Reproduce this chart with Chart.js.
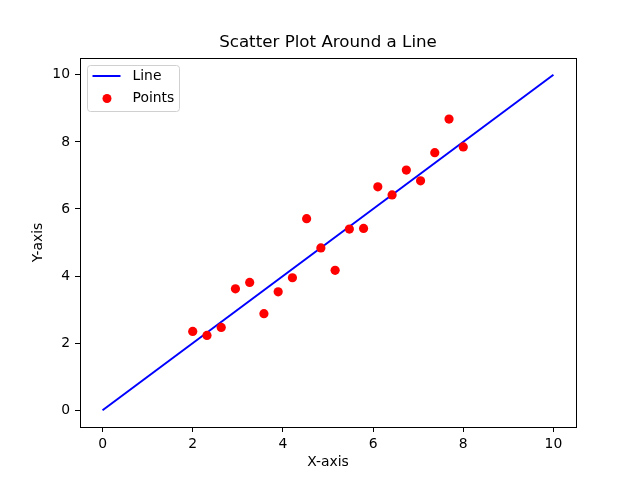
<!DOCTYPE html>
<html>
<head>
<meta charset="utf-8">
<script src="https://cdn.jsdelivr.net/npm/chart.js@4.4.0/dist/chart.umd.min.js"></script>
<style>
  body { margin: 0; background: #fff; }
  canvas { display: block; }
</style>
</head>
<body>
<canvas id="chart" width="640" height="480"></canvas>
<script>
// données
const lineX = [0, 10];
const lineY = [0, 10];
const pointsX = [2.0, 2.316, 2.632, 2.947, 3.263, 3.579, 3.895, 4.211, 4.526, 4.842,
                 5.158, 5.474, 5.789, 6.105, 6.421, 6.737, 7.053, 7.368, 7.684, 8.0];
const pointsY = [2.35, 2.23, 2.47, 3.62, 3.81, 2.88, 3.53, 3.95, 5.71, 4.84,
                 4.17, 5.40, 5.42, 6.66, 6.42, 7.16, 6.84, 7.68, 8.68, 7.85];
const xTicks = [0, 2, 4, 6, 8, 10];
const yTicks = [0, 2, 4, 6, 8, 10];

const FONT = 'DejaVu Sans';

// cadre autour de la zone du graphique
const frame = {
    id: 'frame',
    afterDraw(chart) {
        const { ctx, chartArea: a } = chart;
        ctx.save();
        ctx.strokeStyle = '#000';
        ctx.lineWidth = 1;
        ctx.strokeRect(Math.round(a.left) + 0.5, Math.round(a.top) + 0.5,
                       Math.round(a.right - a.left), Math.round(a.bottom - a.top));
        ctx.restore();
    }
};

// légende style matplotlib, en haut à gauche
const legendBox = {
    id: 'legendBox',
    afterDraw(chart) {
        const { ctx, chartArea: a } = chart;
        const ds = chart.data.datasets;
        const x = Math.round(a.left) + 7.5, y = Math.round(a.top) + 7.5, w = 92, h = 46, r = 3;
        ctx.save();
        ctx.beginPath();
        ctx.roundRect(x, y, w, h, r);
        ctx.fillStyle = 'rgba(255,255,255,0.8)';
        ctx.fill();
        ctx.strokeStyle = '#d0d0d0';
        ctx.lineWidth = 1;
        ctx.stroke();

        ctx.beginPath();
        ctx.moveTo(x + 5, y + 10.5);
        ctx.lineTo(x + 33, y + 10.5);
        ctx.strokeStyle = ds[0].borderColor;
        ctx.lineWidth = 2;
        ctx.stroke();

        ctx.beginPath();
        ctx.arc(x + 19.5, y + 33, 4.5, 0, Math.PI * 2);
        ctx.fillStyle = ds[1].backgroundColor;
        ctx.fill();

        ctx.fillStyle = '#000';
        ctx.font = '13.9px "' + FONT + '"';
        ctx.textBaseline = 'middle';
        ctx.fillText(ds[0].label, x + 45, y + 11);
        ctx.fillText(ds[1].label, x + 45, y + 33);
        ctx.restore();
    }
};

const ctx = document.getElementById('chart').getContext('2d');
new Chart(ctx, {
    type: 'scatter',
    data: {
        datasets: [{
            type: 'line',
            label: 'Line',
            data: lineX.map((x, i) => ({ x: x, y: lineY[i] })),
            borderColor: '#0000ff',
            borderWidth: 2,
            pointRadius: 0,
            fill: false,
            order: 1
        }, {
            label: 'Points',
            data: pointsX.map((x, i) => ({ x: x, y: pointsY[i] })),
            backgroundColor: '#ff0000',
            borderWidth: 0,
            pointRadius: 4.6,
            order: 0
        }]
    },
    options: {
        responsive: false,
        animation: false,
        layout: { padding: { left: 0, right: 64, top: 0, bottom: 0 } },
        plugins: {
            legend: { display: false },
            tooltip: { enabled: false },
            title: {
                display: true,
                fullSize: false,
                text: 'Scatter Plot Around a Line',
                color: '#000',
                font: { family: FONT, size: 16.7, weight: 'normal' },
                padding: { top: 33, bottom: 5 }
            }
        },
        scales: {
            x: {
                type: 'linear',
                min: -0.5,
                max: 10.5,
                afterBuildTicks: s => { s.ticks = xTicks.map(v => ({ value: v })); },
                afterFit: s => { s.height = 53; },
                grid: { drawOnChartArea: false, drawTicks: true, tickLength: 5, color: '#000' },
                border: { display: false },
                ticks: { color: '#000', padding: 4, maxRotation: 0, font: { family: FONT, size: 13.9 } },
                title: {
                    display: true, text: 'X-axis', color: '#000',
                    font: { family: FONT, size: 13.9 },
                    padding: { top: 0, bottom: 9 }
                }
            },
            y: {
                type: 'linear',
                min: -0.5,
                max: 10.5,
                afterBuildTicks: s => { s.ticks = yTicks.map(v => ({ value: v })); },
                afterFit: s => { s.width = 80; },
                grid: { drawOnChartArea: false, drawTicks: true, tickLength: 5, color: '#000' },
                border: { display: false },
                ticks: { color: '#000', padding: 5, font: { family: FONT, size: 13.9 } },
                title: {
                    display: true, text: 'Y-axis', color: '#000',
                    font: { family: FONT, size: 13.9 },
                    padding: { top: 30, bottom: 0 }
                }
            }
        }
    },
    plugins: [frame, legendBox]
});
</script>
</body>
</html>
